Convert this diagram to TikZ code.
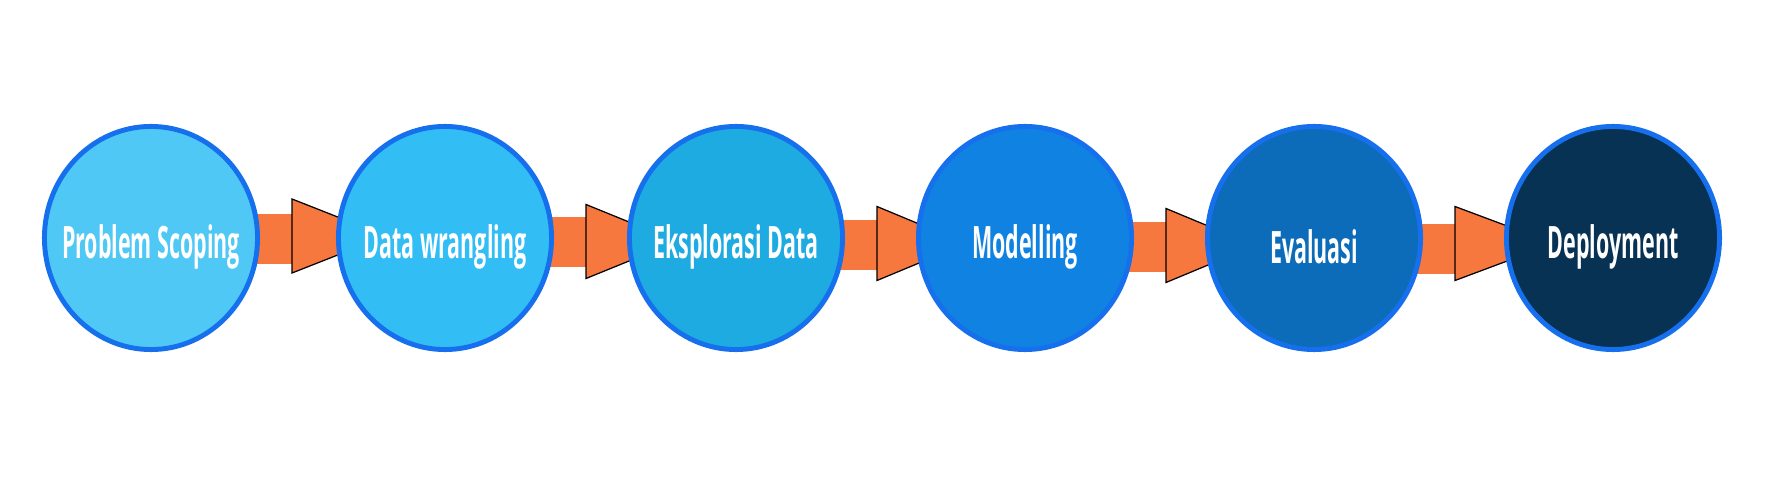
\documentclass[tikz,border=0pt]{standalone}
\usepackage{fontspec}
\setmainfont{Open Sans}
\usetikzlibrary{shapes.geometric,calc,backgrounds}
\definecolor{ringblue}{RGB}{22,112,238}
\definecolor{scopefill}{RGB}{80,200,245}
\definecolor{wranglefill}{RGB}{50,190,245}
\definecolor{explorefill}{RGB}{30,171,226}
\definecolor{modelfill}{RGB}{16,130,225}
\definecolor{evalfill}{RGB}{12,108,185}
\definecolor{deployfill}{RGB}{8,50,84}
\definecolor{floworange}{RGB}{246,120,62}

\newcommand{\squeeze}[1]{\scalebox{0.48}[1]{#1}}
% band + arrow head between two stages: from, to, band shift, head shift
\newcommand{\flowarrow}[4]{%
  \draw[band] ($(#1.center)+(0,#3)$) -- ($(#1.east)+(34,#3)$);
  \filldraw[head] ($(#1.east)+(32,#4-37)$) -- ($(#2.west)+(50,#4)$) -- ($(#1.east)+(32,#4+37)$) -- cycle;
}

\begin{document}
\begin{tikzpicture}[x=0.01cm, y=-0.01cm,
    stage/.style={ellipse, draw=ringblue, line width=1.4pt, minimum width=2.13cm, minimum height=2.23cm, inner sep=0pt},
    caption/.style={text=white, inner sep=0pt, yshift=-2.5pt, font=\fontsize{12.7}{14}\selectfont\bfseries},
    band/.style={draw=floworange, line width=14.2pt},
    head/.style={fill=floworange, draw=black, line width=0.35pt}
]

% 1. STAGES
\node[stage, fill=scopefill, label={[caption]center:\squeeze{Problem Scoping}}] (scoping) at (151,238) {};
\node[stage, fill=wranglefill, label={[caption]center:\squeeze{Data wrangling}}] (wrangling) at (445,238) {};
\node[stage, fill=explorefill, label={[caption]center:\squeeze{Eksplorasi Data}}] (explore) at (736,238) {};
\node[stage, fill=modelfill, label={[caption]center:\squeeze{Modelling}}] (model) at (1025,238) {};
\node[stage, fill=evalfill, label={[caption]center:\squeeze{Evaluasi}}] (eval) at (1314,238) {};
\node[stage, fill=deployfill, label={[caption]center:\squeeze{Deployment}}] (deploy) at (1613,238) {};

% 2. FLOW ARROWS (behind the stages)
\begin{scope}[on background layer]
\fill[white] (0,0) rectangle (1784,482);
\flowarrow{scoping}{wrangling}{1}{-2}
\flowarrow{wrangling}{explore}{4}{3.5}
\flowarrow{explore}{model}{7}{5.5}
\flowarrow{model}{eval}{9}{7.5}
\flowarrow{eval}{deploy}{11}{5.5}
\end{scope}

\end{tikzpicture}
\end{document}
